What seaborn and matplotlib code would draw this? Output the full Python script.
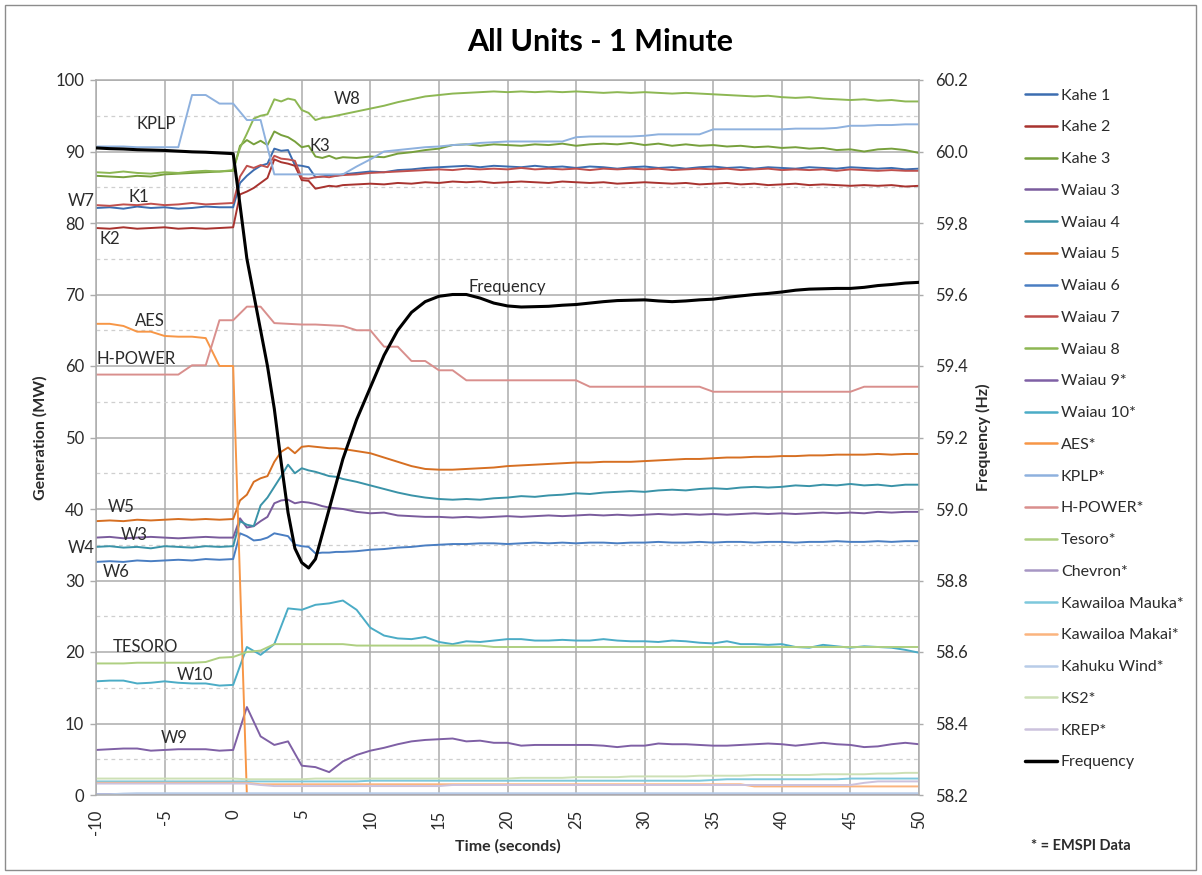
import matplotlib
matplotlib.use("Agg")
import matplotlib.pyplot as plt
from matplotlib.lines import Line2D
from matplotlib.patches import Rectangle
from matplotlib.ticker import MultipleLocator, FormatStrFormatter
import pandas as pd
import seaborn as sns

# ---------------------------------------------------------------------------
# Sample times (s).  SCADA units are logged every 0.5 s around the event,
# EMSPI units once per second.
# ---------------------------------------------------------------------------
t_fast = [-10, -9, -8, -7, -6, -5, -4, -3, -2, -1,
          0, 0.5, 1, 1.5, 2, 2.5, 3, 3.5, 4, 4.5, 5, 5.5, 6, 6.5, 7, 7.5, 8,
          9, 10, 11, 12, 13, 14, 15, 16, 17, 18,
          19, 20, 21, 22, 23, 24, 25, 26, 27, 28,
          29, 30, 31, 32, 33, 34, 35, 36, 37, 38,
          39, 40, 41, 42, 43, 44, 45, 46, 47, 48, 49, 50]
seconds = list(range(-10, 51))

# --- SCADA units (MW) on t_fast --------------------------------------------
kahe1 = [82.1, 82.2, 82.0, 82.3, 82.1, 82.2, 82.0, 82.1, 82.3, 82.2,
         82.2, 85.6, 86.6, 87.4, 88.0, 88.3, 90.4, 90.1, 90.2, 88.1, 88.0, 87.8, 86.4, 86.5, 86.7, 86.6, 86.8,
         87.0, 87.2, 87.1, 87.4, 87.5, 87.7, 87.8, 87.9, 88.0, 87.8,
         88.0, 87.9, 87.8, 88.0, 87.8, 87.9, 87.7, 87.9, 87.8, 87.6,
         87.8, 87.9, 87.7, 87.8, 87.6, 87.8, 87.9, 87.7, 87.8, 87.6,
         87.8, 87.7, 87.6, 87.8, 87.7, 87.6, 87.8, 87.7, 87.6, 87.7, 87.5, 87.6]
kahe2 = [79.3, 79.2, 79.4, 79.2, 79.3, 79.4, 79.2, 79.3, 79.2, 79.3,
         79.4, 84.0, 84.4, 84.9, 85.6, 86.3, 88.9, 88.5, 88.3, 88.0, 86.0, 85.9, 84.8, 85.0, 85.2, 85.1, 85.3,
         85.4, 85.5, 85.4, 85.6, 85.5, 85.7, 85.6, 85.8, 85.7, 85.8,
         85.6, 85.7, 85.8, 85.7, 85.6, 85.8, 85.7, 85.6, 85.7, 85.5,
         85.6, 85.7, 85.6, 85.5, 85.6, 85.4, 85.5, 85.6, 85.4, 85.5,
         85.3, 85.4, 85.5, 85.3, 85.4, 85.3, 85.2, 85.3, 85.2, 85.3, 85.1, 85.2]
kahe3 = [86.6, 86.5, 86.4, 86.6, 86.5, 86.8, 86.9, 87.0, 87.1, 87.2,
         87.3, 90.8, 91.6, 91.0, 91.5, 90.9, 92.8, 92.3, 92.0, 91.4, 90.6, 90.8, 89.3, 89.1, 89.4, 89.0, 89.2,
         89.1, 89.3, 89.2, 89.7, 89.9, 90.2, 90.4, 90.9, 91.0, 90.8,
         91.0, 90.9, 90.8, 91.0, 90.9, 91.1, 90.8, 91.0, 91.1, 91.0,
         91.2, 90.9, 91.1, 90.8, 91.0, 90.8, 90.9, 90.7, 90.8, 90.6,
         90.7, 90.5, 90.6, 90.4, 90.5, 90.2, 90.3, 90.0, 90.3, 90.4, 90.2, 89.8]
waiau3 = [36.0, 36.1, 35.9, 36.0, 36.1, 36.0, 35.9, 36.0, 36.1, 36.0,
          36.0, 38.7, 37.4, 37.6, 38.3, 38.9, 40.8, 41.2, 41.3, 40.8, 41.0, 40.9, 40.7, 40.4, 40.2, 40.1, 40.0,
          39.6, 39.4, 39.5, 39.1, 39.0, 38.9, 38.9, 38.8, 38.9, 38.8,
          38.9, 39.0, 38.9, 39.0, 39.1, 39.0, 39.1, 39.2, 39.1, 39.2,
          39.1, 39.2, 39.3, 39.2, 39.3, 39.2, 39.3, 39.2, 39.3, 39.4,
          39.3, 39.4, 39.3, 39.4, 39.5, 39.4, 39.5, 39.4, 39.6, 39.5, 39.6, 39.6]
waiau4 = [34.7, 34.8, 34.6, 34.7, 34.5, 34.8, 34.7, 34.6, 34.8, 34.7,
          34.8, 38.3, 37.8, 37.6, 40.5, 41.6, 43.1, 44.6, 46.2, 45.0, 45.7, 45.4, 45.2, 44.9, 44.6, 44.5, 44.2,
          43.8, 43.3, 42.8, 42.3, 41.9, 41.6, 41.4, 41.3, 41.4, 41.3,
          41.5, 41.6, 41.8, 41.7, 41.9, 42.0, 42.2, 42.1, 42.3, 42.4,
          42.5, 42.4, 42.6, 42.7, 42.6, 42.8, 42.9, 42.8, 43.0, 43.1,
          43.0, 43.1, 43.3, 43.2, 43.4, 43.3, 43.5, 43.3, 43.4, 43.2, 43.4, 43.4]
waiau5 = [38.3, 38.4, 38.3, 38.5, 38.4, 38.5, 38.6, 38.5, 38.6, 38.5,
          38.6, 41.2, 42.0, 43.8, 44.3, 44.6, 46.6, 48.0, 48.6, 47.8, 48.7, 48.8, 48.7, 48.6, 48.5, 48.5, 48.4,
          48.1, 47.8, 47.2, 46.6, 46.0, 45.6, 45.5, 45.5, 45.6, 45.7,
          45.8, 46.0, 46.1, 46.2, 46.3, 46.4, 46.5, 46.5, 46.6, 46.6,
          46.6, 46.7, 46.8, 46.9, 47.0, 47.0, 47.1, 47.2, 47.2, 47.3,
          47.3, 47.4, 47.4, 47.5, 47.5, 47.6, 47.6, 47.6, 47.7, 47.6, 47.7, 47.7]
waiau6 = [32.6, 32.7, 32.6, 32.8, 32.7, 32.8, 32.9, 32.8, 33.0, 32.9,
          33.0, 36.6, 36.2, 35.6, 35.7, 36.0, 36.6, 36.4, 36.2, 35.0, 34.8, 34.7, 33.8, 33.9, 33.9, 34.0, 34.0,
          34.1, 34.3, 34.4, 34.6, 34.7, 34.9, 35.0, 35.1, 35.1, 35.2,
          35.2, 35.1, 35.2, 35.3, 35.2, 35.3, 35.2, 35.3, 35.3, 35.2,
          35.3, 35.3, 35.4, 35.3, 35.3, 35.4, 35.3, 35.4, 35.4, 35.3,
          35.4, 35.4, 35.3, 35.4, 35.4, 35.5, 35.4, 35.4, 35.5, 35.4, 35.5, 35.5]
waiau7 = [82.5, 82.4, 82.6, 82.5, 82.7, 82.5, 82.6, 82.8, 82.6, 82.7,
          82.8, 86.5, 88.0, 87.7, 88.1, 87.8, 89.4, 89.0, 88.9, 88.7, 86.3, 86.2, 86.4, 86.5, 86.4, 86.6, 86.7,
          86.8, 87.0, 87.1, 87.2, 87.3, 87.4, 87.5, 87.4, 87.6, 87.5,
          87.6, 87.5, 87.7, 87.5, 87.6, 87.5, 87.6, 87.4, 87.6, 87.5,
          87.6, 87.5, 87.6, 87.4, 87.5, 87.6, 87.5, 87.6, 87.4, 87.5,
          87.6, 87.4, 87.5, 87.4, 87.5, 87.3, 87.5, 87.4, 87.3, 87.4, 87.3, 87.3]
waiau8 = [87.1, 87.0, 87.2, 87.0, 86.9, 87.1, 87.0, 87.2, 87.3, 87.2,
          87.4, 90.5, 92.5, 94.6, 95.0, 95.2, 97.3, 97.0, 97.4, 97.2, 95.8, 95.4, 94.4, 94.7, 94.8, 95.0, 95.2,
          95.6, 96.0, 96.4, 96.9, 97.3, 97.7, 97.9, 98.1, 98.2, 98.3,
          98.4, 98.3, 98.4, 98.3, 98.4, 98.3, 98.4, 98.3, 98.2, 98.3,
          98.2, 98.3, 98.2, 98.1, 98.2, 98.1, 98.0, 97.9, 97.8, 97.7,
          97.8, 97.6, 97.5, 97.6, 97.4, 97.3, 97.2, 97.3, 97.1, 97.2, 97.0, 97.0]

# --- System frequency (Hz) on t_fast ---------------------------------------
frequency = [60.010, 60.008, 60.007, 60.005, 60.004, 60.003, 60.001, 59.999, 59.998, 59.996,
             59.994, 59.85, 59.70, 59.60, 59.50, 59.40, 59.28, 59.13, 58.99, 58.89, 58.85, 58.835,
             58.86, 58.93, 59.00, 59.07, 59.14,
             59.25, 59.34, 59.43, 59.50, 59.55, 59.58, 59.595, 59.600, 59.600, 59.590,
             59.576, 59.568, 59.565, 59.566, 59.567, 59.570, 59.572, 59.576, 59.580, 59.583,
             59.584, 59.585, 59.582, 59.580, 59.582, 59.585, 59.587, 59.592, 59.596, 59.600,
             59.603, 59.607, 59.612, 59.615, 59.616, 59.617, 59.617, 59.620, 59.625, 59.628,
             59.632, 59.634]

# --- EMSPI units (MW) on 1-s samples ---------------------------------------
waiau9 = [6.3, 6.4, 6.5, 6.5, 6.2, 6.3, 6.4, 6.4, 6.4, 6.2,
          6.3, 12.3, 8.2, 7.0, 7.5, 4.1, 3.9, 3.2, 4.7, 5.6, 6.2,
          6.6, 7.1, 7.5, 7.7, 7.8, 7.9, 7.5, 7.6, 7.3, 7.3,
          6.9, 7.0, 7.0, 7.0, 7.0, 7.0, 6.9, 6.7, 6.9, 6.9,
          7.2, 7.1, 7.1, 7.0, 6.9, 6.9, 7.0, 7.1, 7.2, 7.1,
          6.9, 7.1, 7.3, 7.1, 7.0, 6.7, 6.8, 7.1, 7.3, 7.1]
waiau10 = [15.9, 16.0, 16.0, 15.6, 15.7, 15.9, 15.7, 15.6, 15.6, 15.3,
           15.4, 20.7, 19.6, 21.1, 26.1, 25.9, 26.6, 26.8, 27.2, 25.9, 23.4,
           22.3, 21.9, 21.8, 22.1, 21.4, 21.1, 21.5, 21.4, 21.6, 21.8,
           21.8, 21.6, 21.6, 21.7, 21.6, 21.6, 21.8, 21.6, 21.5, 21.5,
           21.4, 21.6, 21.5, 21.3, 21.2, 21.5, 21.1, 21.1, 21.0, 21.1,
           20.7, 20.6, 21.0, 20.8, 20.6, 20.8, 20.7, 20.6, 20.3, 19.9]
aes = [65.9, 65.9, 65.6, 64.8, 64.8, 64.2, 64.1, 64.1, 63.9, 60.0,
       60.0, 0.0, 0.0, 0.0, 0.0, 0.0, 0.0, 0.0, 0.0, 0.0, 0.0,
       0.0, 0.0, 0.0, 0.0, 0.0, 0.0, 0.0, 0.0, 0.0, 0.0,
       0.0, 0.0, 0.0, 0.0, 0.0, 0.0, 0.0, 0.0, 0.0, 0.0,
       0.0, 0.0, 0.0, 0.0, 0.0, 0.0, 0.0, 0.0, 0.0, 0.0,
       0.0, 0.0, 0.0, 0.0, 0.0, 0.0, 0.0, 0.0, 0.0, 0.0]
kplp = [90.7, 90.7, 90.7, 90.6, 90.6, 90.6, 90.6, 97.9, 97.9, 96.7,
        96.7, 94.4, 94.4, 86.8, 86.8, 86.8, 86.8, 86.8, 86.8, 87.9, 88.9,
        90.0, 90.2, 90.4, 90.6, 90.7, 90.9, 91.0, 91.2, 91.3, 91.4,
        91.4, 91.4, 91.4, 91.4, 92.0, 92.1, 92.1, 92.1, 92.1, 92.2,
        92.4, 92.4, 92.4, 92.4, 93.1, 93.1, 93.1, 93.1, 93.1, 93.1,
        93.2, 93.2, 93.2, 93.3, 93.6, 93.6, 93.7, 93.7, 93.8, 93.8]
hpower = [58.8, 58.8, 58.8, 58.8, 58.8, 58.8, 58.8, 60.1, 60.1, 66.4,
          66.4, 68.3, 68.3, 66.0, 65.9, 65.8, 65.8, 65.7, 65.6, 65.0, 65.0,
          62.7, 62.7, 60.7, 60.7, 59.4, 59.4, 58.0, 58.0, 58.0, 58.0,
          58.0, 58.0, 58.0, 58.0, 58.0, 57.1, 57.1, 57.1, 57.1, 57.1,
          57.1, 57.1, 57.1, 57.1, 56.4, 56.4, 56.4, 56.4, 56.4, 56.4,
          56.4, 56.4, 56.4, 56.4, 56.4, 57.1, 57.1, 57.1, 57.1, 57.1]
tesoro = [18.4, 18.4, 18.4, 18.5, 18.5, 18.5, 18.5, 18.5, 18.6, 19.2,
          19.3, 20.0, 20.2, 21.1, 21.1, 21.1, 21.1, 21.1, 21.1, 20.9, 20.9,
          20.9, 20.9, 20.9, 20.9, 20.9, 20.9, 20.9, 20.9, 20.7, 20.7,
          20.7, 20.7, 20.7, 20.7, 20.7, 20.7, 20.7, 20.7, 20.7, 20.7,
          20.7, 20.7, 20.7, 20.7, 20.7, 20.7, 20.7, 20.7, 20.7, 20.7,
          20.7, 20.7, 20.7, 20.7, 20.7, 20.7, 20.7, 20.7, 20.7, 20.7]
chevron = [0.1, 0.1, 0.1, 0.1, 0.1, 0.1, 0.1, 0.1, 0.1, 0.1,
           0.1, 0.1, 0.1, 0.1, 0.1, 0.1, 0.1, 0.1, 0.1, 0.1, 0.1,
           0.1, 0.1, 0.1, 0.1, 0.1, 0.1, 0.1, 0.1, 0.1, 0.1,
           0.1, 0.1, 0.1, 0.1, 0.1, 0.1, 0.1, 0.1, 0.1, 0.1,
           0.1, 0.1, 0.1, 0.1, 0.1, 0.1, 0.1, 0.1, 0.1, 0.1,
           0.1, 0.1, 0.1, 0.1, 0.1, 0.1, 0.1, 0.1, 0.1, 0.1]
kawailoa_mauka = [1.9, 1.9, 1.9, 1.9, 1.9, 1.9, 1.9, 1.9, 1.9, 1.9,
                  1.9, 1.9, 1.9, 1.9, 1.9, 1.9, 1.9, 1.9, 1.9, 1.9, 2.0,
                  2.0, 2.0, 2.0, 2.0, 2.0, 2.0, 2.0, 2.0, 2.0, 2.0,
                  2.0, 2.0, 2.0, 2.0, 2.0, 2.0, 2.0, 2.0, 2.0, 2.0,
                  2.0, 2.0, 2.0, 2.0, 2.1, 2.2, 2.2, 2.2, 2.2, 2.2,
                  2.2, 2.2, 2.2, 2.2, 2.3, 2.3, 2.3, 2.3, 2.3, 2.3]
kawailoa_makai = [1.7, 1.7, 1.7, 1.7, 1.7, 1.7, 1.7, 1.7, 1.7, 1.7,
                  1.7, 1.7, 1.5, 1.5, 1.5, 1.5, 1.5, 1.5, 1.5, 1.5, 1.5,
                  1.5, 1.5, 1.5, 1.5, 1.5, 1.5, 1.5, 1.5, 1.5, 1.5,
                  1.5, 1.5, 1.5, 1.5, 1.5, 1.5, 1.5, 1.5, 1.5, 1.5,
                  1.5, 1.5, 1.5, 1.5, 1.5, 1.5, 1.5, 1.2, 1.2, 1.2,
                  1.2, 1.2, 1.2, 1.2, 1.2, 1.2, 1.2, 1.2, 1.2, 1.2]
kahuku_wind = [0.1, 0.1, 0.2, 0.25, 0.25, 0.25, 0.25, 0.25, 0.25, 0.25,
               0.25, 0.25, 0.25, 0.25, 0.25, 0.25, 0.25, 0.25, 0.25, 0.25, 0.25,
               0.25, 0.25, 0.25, 0.25, 0.25, 0.25, 0.25, 0.25, 0.25, 0.25,
               0.25, 0.25, 0.25, 0.25, 0.25, 0.25, 0.25, 0.25, 0.25, 0.25,
               0.25, 0.25, 0.25, 0.25, 0.25, 0.25, 0.25, 0.25, 0.25, 0.25,
               0.25, 0.25, 0.25, 0.25, 0.25, 0.25, 0.25, 0.25, 0.25, 0.25]
ks2 = [2.3, 2.3, 2.3, 2.3, 2.3, 2.3, 2.3, 2.3, 2.3, 2.3,
       2.3, 2.2, 2.2, 2.2, 2.2, 2.2, 2.3, 2.3, 2.3, 2.3, 2.3,
       2.3, 2.3, 2.3, 2.3, 2.3, 2.3, 2.3, 2.3, 2.3, 2.3,
       2.4, 2.4, 2.4, 2.4, 2.5, 2.5, 2.5, 2.5, 2.6, 2.6,
       2.6, 2.6, 2.6, 2.7, 2.7, 2.7, 2.7, 2.8, 2.8, 2.8,
       2.8, 2.8, 2.9, 2.9, 2.9, 2.9, 3.0, 3.0, 3.1, 3.1]
krep = [1.6, 1.6, 1.6, 1.6, 1.6, 1.6, 1.6, 1.6, 1.6, 1.6,
        1.6, 1.6, 1.4, 1.25, 1.25, 1.25, 1.25, 1.25, 1.25, 1.25, 1.25,
        1.25, 1.25, 1.25, 1.25, 1.25, 1.4, 1.4, 1.4, 1.4, 1.4,
        1.4, 1.4, 1.4, 1.4, 1.4, 1.4, 1.4, 1.4, 1.4, 1.4,
        1.4, 1.4, 1.4, 1.4, 1.4, 1.4, 1.4, 1.4, 1.4, 1.4,
        1.4, 1.4, 1.4, 1.4, 1.4, 1.7, 1.9, 1.9, 1.9, 1.9]

# Legend order = drawing order
units = [
    ("Kahe 1", t_fast, kahe1, "#3C6DB0"),
    ("Kahe 2", t_fast, kahe2, "#A8332F"),
    ("Kahe 3", t_fast, kahe3, "#77A03C"),
    ("Waiau 3", t_fast, waiau3, "#7A5C9D"),
    ("Waiau 4", t_fast, waiau4, "#3A93A8"),
    ("Waiau 5", t_fast, waiau5, "#D66F22"),
    ("Waiau 6", t_fast, waiau6, "#4A7EC2"),
    ("Waiau 7", t_fast, waiau7, "#C0504D"),
    ("Waiau 8", t_fast, waiau8, "#8DB753"),
    ("Waiau 9*", seconds, waiau9, "#7F60A5"),
    ("Waiau 10*", seconds, waiau10, "#4BACC6"),
    ("AES*", seconds, aes, "#F79646"),
    ("KPLP*", seconds, kplp, "#8EB1DE"),
    ("H-POWER*", seconds, hpower, "#D98F8D"),
    ("Tesoro*", seconds, tesoro, "#AECF81"),
    ("Chevron*", seconds, chevron, "#A796C4"),
    ("Kawailoa Mauka*", seconds, kawailoa_mauka, "#7DC8DC"),
    ("Kawailoa Makai*", seconds, kawailoa_makai, "#FBB47E"),
    ("Kahuku Wind*", seconds, kahuku_wind, "#B8CCE8"),
    ("KS2*", seconds, ks2, "#CDE0B5"),
    ("KREP*", seconds, krep, "#CCC2DD"),
]

# Labels written next to the traces (time s, MW)
trace_labels = [
    ("KPLP", -5.6, 93.9), ("W8", 8.3, 97.3), ("K3", 6.3, 90.8),
    ("W7", -11.1, 83.1), ("K1", -6.9, 83.6), ("K2", -9.0, 77.8),
    ("AES", -6.1, 66.3), ("H-POWER", -7.1, 61.0), ("W5", -8.2, 40.3),
    ("W3", -7.2, 36.4), ("W4", -11.1, 34.6), ("W6", -8.5, 31.2),
    ("TESORO", -6.4, 20.7), ("W10", -2.8, 16.8), ("W9", -4.3, 8.0),
    ("Frequency", 20.0, 71.0),
]

x_ticks = list(range(-10, 51, 5))
mw_ticks = list(range(0, 101, 10))
hz_ticks = [58.2, 58.4, 58.6, 58.8, 59.0, 59.2, 59.4, 59.6, 59.8, 60.0, 60.2]

# ---------------------------------------------------------------------------
sns.set_style("white")
plt.rcParams["font.family"] = ["Lato", "DejaVu Sans"]
plt.rcParams["axes.unicode_minus"] = False
TXT = "#2B2B2B"
GRID = "#ACACAC"

W, H = 1202, 875
fig = plt.figure(figsize=(W / 100, H / 100), dpi=100)
ax = fig.add_axes([96 / W, (H - 795) / H, (919 - 96) / W, (795 - 80) / H])

frames = [pd.DataFrame({"time": t, "mw": v, "unit": name}) for name, t, v, _ in units]
df = pd.concat(frames, ignore_index=True)
names = [u[0] for u in units]
palette = {u[0]: u[3] for u in units}

sns.lineplot(data=df, x="time", y="mw", hue="unit", hue_order=names,
             palette=palette, estimator=None, sort=False, linewidth=1.4,
             legend=False, ax=ax)

ax.set_xlim(-10, 50)
ax.set_ylim(0, 100)
ax.set_xticks(x_ticks)
ax.set_yticks(mw_ticks)
ax.xaxis.set_minor_locator(MultipleLocator(1))
ax.yaxis.set_minor_locator(MultipleLocator(5))
ax.set_axisbelow(True)
ax.grid(which="major", axis="both", color=GRID, linewidth=1.1)
ax.yaxis.grid(True, which="minor", color="#CFCFCF", linewidth=0.9, linestyle=(0, (3, 3)))
ax.xaxis.grid(False, which="minor")
for s in ax.spines.values():
    s.set_color(GRID)
    s.set_linewidth(1.1)

ax.tick_params(axis="x", which="major", labelrotation=90, length=5, width=1,
               color=GRID, pad=5.5, labelsize=12, labelcolor=TXT)
ax.tick_params(axis="x", which="minor", length=3, width=0.8, color=GRID)
ax.tick_params(axis="y", which="major", length=4.3, width=1, color=GRID,
               pad=4.3, labelsize=12, labelcolor=TXT)
ax.tick_params(axis="y", which="minor", length=0)

ax.set_xlabel("Time (seconds)", fontsize=11.5, fontweight="bold", color=TXT, va="center")
ax.xaxis.set_label_coords(0.5, (795 - 846) / 715)
ax.set_ylabel("Generation (MW)", fontsize=11.5, fontweight="bold", color=TXT, va="center")
ax.yaxis.set_label_coords((40 - 96) / 823, 0.5)

# Frequency on the secondary axis
ax2 = ax.twinx()
sns.lineplot(x=t_fast, y=frequency, color="black", linewidth=2.2, ax=ax2)
ax2.set_ylim(58.2, 60.2)
ax2.set_yticks(hz_ticks)
ax2.yaxis.set_major_formatter(FormatStrFormatter("%.1f"))
ax2.tick_params(axis="y", length=2.9, width=1, color=GRID, pad=8.6,
                labelsize=12, labelcolor=TXT)
for s in ax2.spines.values():
    s.set_visible(False)
ax2.set_ylabel("Frequency (Hz)", fontsize=11.5, fontweight="bold", color=TXT,
               rotation=90, va="center")
ax2.yaxis.set_label_coords((983 - 96) / 823, 0.5)
ax2.grid(False)

for text, tx, ty in trace_labels:
    ax.text(tx, ty, text, fontsize=12, color=TXT, ha="center", va="center",
            clip_on=False, zorder=10)

fig.text(600 / W, 1 - 51 / H, "All Units - 1 Minute", ha="center", va="baseline",
         fontsize=22, fontweight="bold", color="black")

handles = [Line2D([0], [0], color=u[3], lw=1.8) for u in units]
handles.append(Line2D([0], [0], color="black", lw=2.5))
labels = names + ["Frequency"]
fig.legend(handles, labels, loc="center left", bbox_to_anchor=(1025 / W, 1 - 429 / H),
           frameon=False, fontsize=11.5, labelspacing=1.1, handlelength=2.0,
           handletextpad=0.25, borderpad=0, borderaxespad=0, labelcolor=TXT)

fig.text(1081 / W, 1 - 846 / H, "* = EMSPI Data", ha="center", va="center",
         fontsize=10.5, fontweight="bold", color=TXT)

fig.patches.append(Rectangle((5 / W, 5 / H), 1191 / W, 865 / H, transform=fig.transFigure,
                             fill=False, edgecolor="#8C8C8C", linewidth=1))

fig.savefig("out.png", dpi=100)
